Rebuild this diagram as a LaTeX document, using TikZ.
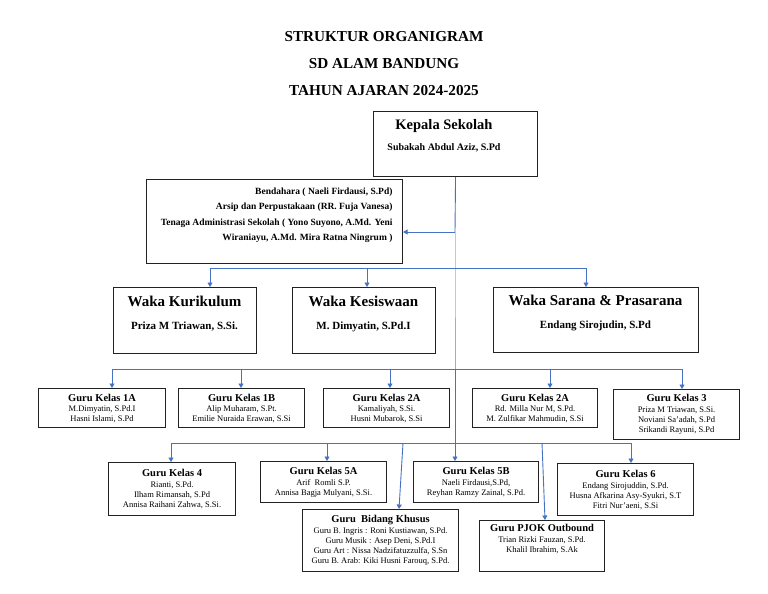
\documentclass[tikz,border=0pt]{standalone}
\usepackage{fontspec}
\setmainfont{Liberation Serif}
\usetikzlibrary{arrows.meta}
\definecolor{lnblue}{HTML}{4472C4}
\definecolor{lnlight}{HTML}{94AEE0}
\definecolor{bxline}{HTML}{222222}
\newcommand\gttl[1]{{\fontsize{10.5}{12}\selectfont\bfseries #1}}
\tikzset{
  bx/.style={draw=bxline, line width=1.1pt, inner sep=0pt, anchor=north west},
  gbox/.style={bx, align=center, font=\fontsize{8.5}{10}\selectfont},
  conn/.style={draw=lnblue, line width=0.9pt},
  connl/.style={draw=lnlight, line width=0.9pt},
  arr/.style={conn, -{Triangle[width=5pt,length=4.5pt]}},
  ttl/.style={font=\fontsize{15.2}{18}\selectfont\bfseries, anchor=base},
  wtitle/.style={font=\fontsize{15}{18}\selectfont\bfseries, anchor=base},
  wname/.style={font=\fontsize{11}{13}\selectfont\bfseries, anchor=base},
  btxt/.style={font=\fontsize{9.5}{11}\selectfont\bfseries, anchor=base east},
}
\begin{document}
\begin{tikzpicture}[x=1pt,y=-1pt]
\useasboundingbox (0,0) rectangle (768,594);
\fill[white] (0,0) rectangle (768,594);

% titles
\node[ttl] (t1) at (384,42) {STRUKTUR ORGANIGRAM};
\node[ttl] (t2) at (384,68) {SD ALAM BANDUNG};
\node[ttl] (t3) at (384,95) {TAHUN AJARAN 2024-2025};

% top boxes
\node[bx, minimum width=164pt, minimum height=65pt] (kepala) at (373,111) {};
\node[font=\fontsize{14.5}{17}\selectfont\bfseries, anchor=base] (kept) at (444,129) {Kepala Sekolah};
\node[font=\fontsize{10}{12}\selectfont\bfseries, anchor=base] (kepn) at (444,150) {Subakah Abdul Aziz, S.Pd};

\node[bx, minimum width=256pt, minimum height=84pt] (bend) at (146,179) {};
\node[btxt] (b1) at (396,194) {Bendahara ( Naeli Firdausi, S.Pd)};
\node[btxt] (b2) at (396,209) {Arsip dan Perpustakaan (RR. Fuja Vanesa)};
\node[btxt] (b3) at (396,225) {Tenaga Administrasi Sekolah ( Yono Suyono, A.Md. Yeni};
\node[btxt] (b4) at (396,240) {Wiraniayu, A.Md. Mira Ratna Ningrum )};

% waka
\node[bx, minimum width=143pt, minimum height=66pt] (wk) at (113,287) {};
\node[wtitle] (wkt) at (184.5,306) {Waka Kurikulum};
\node[wname] (wkn) at (184.5,329) {Priza M Triawan, S.Si.};
\node[bx, minimum width=143pt, minimum height=66pt] (ws) at (292,287) {};
\node[wtitle] (wst) at (363.5,306) {Waka Kesiswaan};
\node[wname] (wsn) at (363.5,329) {M. Dimyatin, S.Pd.I};
\node[bx, minimum width=205pt, minimum height=65pt] (wp) at (493,287) {};
\node[wtitle] (wpt) at (595.5,305) {Waka Sarana \& Prasarana};
\node[wname] (wpn) at (595.5,328) {Endang Sirojudin, S.Pd};

% guru row 1
\node[gbox, minimum width=127pt, minimum height=39pt] (k1a) at (38,388) {\gttl{Guru Kelas 1A}\\ M.Dimyatin, S.Pd.I\\ Hasni Islami, S.Pd};
\node[gbox, minimum width=126pt, minimum height=39pt] (k1b) at (178,388) {\gttl{Guru Kelas 1B}\\ Alip Muharam, S.Pt.\\ Emilie Nuraida Erawan, S.Si};
\node[gbox, minimum width=126pt, minimum height=39pt] (k2a) at (323,388) {\gttl{Guru Kelas 2A}\\ Kamaliyah, S.Si.\\ Husni Mubarok, S.Si};
\node[gbox, minimum width=125pt, minimum height=39pt] (k2b) at (472,388) {\gttl{Guru Kelas 2A}\\ Rd. Milla Nur M, S.Pd.\\ M. Zulfikar Mahmudin, S.Si};
\node[gbox, minimum width=126pt, minimum height=50pt] (k3) at (613,389) {\gttl{Guru Kelas 3}\\[1pt] Priza M Triawan, S.Si.\\ Noviani Sa’adah, S.Pd\\ Srikandi Rayuni, S.Pd};

% guru row 2
\node[gbox, minimum width=127pt, minimum height=53pt] (k4) at (108,462) {\gttl{Guru Kelas 4}\\[1pt] Rianti, S.Pd.\\ Ilham Rimansah, S.Pd\\ Annisa Raihani Zahwa, S.Si.};
\node[gbox, minimum width=126pt, minimum height=41pt] (k5a) at (260,461) {\gttl{Guru Kelas 5A}\\[1pt] Arif\ \ Romli S.P.\\ Annisa Bagja Mulyani, S.Si.};
\node[gbox, minimum width=125pt, minimum height=41pt] (k5b) at (413,461) {\gttl{Guru Kelas 5B}\\[1pt] Naeli Firdausi,S.Pd,\\ Reyhan Ramzy Zainal, S.Pd.};
\node[gbox, minimum width=136pt, minimum height=52pt] (k6) at (557,463) {\gttl{Guru Kelas 6}\\[1pt] Endang Sirojuddin, S.Pd.\\ Husna Afkarina Asy-Syukri, S.T\\ Fitri Nur’aeni, S.Si};
\node[gbox, minimum width=156pt, minimum height=62pt] (bk) at (302,509) {\gttl{Guru\ \ Bidang Khusus}\\[1pt] Guru B. Ingris : Roni Kustiawan, S.Pd.\\ Guru Musik : Asep Deni, S.Pd.I\\ Guru Art : Nissa Nadzifatuzzulfa, S.Sn\\ Guru B. Arab: Kiki Husni Farouq, S.Pd.};
\node[gbox, minimum width=125pt, minimum height=51pt] (pj) at (479,520) {\gttl{Guru PJOK Outbound}\\[1pt] Trian Rizki Fauzan, S.Pd.\\ Khalil Ibrahim, S.Ak\\[6pt]\mbox{}};

% connectors
\coordinate (jA) at (455,232);
\coordinate (jB) at (455,268);
\coordinate (jC) at (455,369);
\coordinate (jD) at (455,443);
\draw[conn] (kepala.south) -- (jA);
\draw[arr] (jA) -- (jA -| bend.east);
\draw[connl] (jA) -- (jB) -- (jC);
\draw[conn] (jC) -- (jD);
\draw[arr] (jD) -- (jD |- k5b.north);

% waka bar
\coordinate (w1) at (210,268);
\coordinate (w2) at (367,268);
\coordinate (w3) at (586,268);
\draw[conn] (w1) -- (w3);
\draw[arr] (w1) -- (w1 |- wk.north);
\draw[arr] (w2) -- (w2 |- ws.north);
\draw[arr] (w3) -- (w3 |- wp.north);

% guru bar 1
\coordinate (g1) at (112,369);
\coordinate (g2) at (241,369);
\coordinate (g3) at (390,369);
\coordinate (g4) at (550,369);
\coordinate (g5) at (682,369);
\draw[conn] (g1) -- (g5);
\draw[arr] (g1) -- (g1 |- k1a.north);
\draw[arr] (g2) -- (g2 |- k1b.north);
\draw[arr] (g3) -- (g3 |- k2a.north);
\draw[arr] (g4) -- (g4 |- k2b.north);
\draw[arr] (g5) -- (g5 |- k3.north);

% guru bar 2
\coordinate (h1) at (171,443);
\coordinate (h2) at (327,443);
\coordinate (h3) at (403,443);
\coordinate (h4) at (542,443);
\coordinate (h5) at (631,443);
\coordinate (h3e) at (399,509);
\coordinate (h4e) at (545,520);
\draw[conn] (h1) -- (h5);
\draw[arr] (h1) -- (h1 |- k4.north);
\draw[arr] (h2) -- (h2 |- k5a.north);
\draw[arr] (h3) -- (h3e);
\draw[arr] (h4) -- (h4e);
\draw[arr] (h5) -- (h5 |- k6.north);
\end{tikzpicture}
\end{document}
